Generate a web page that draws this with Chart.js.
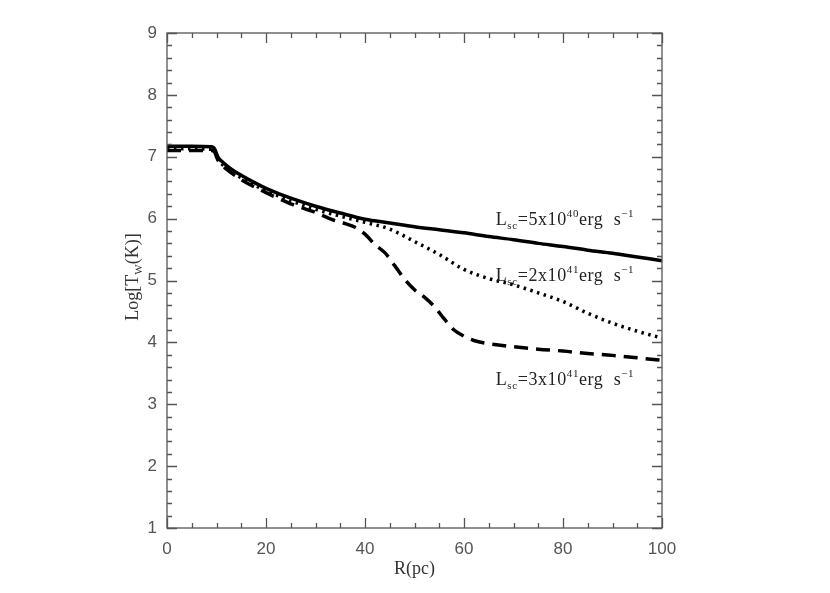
<!DOCTYPE html>
<html>
<head>
<meta charset="utf-8">
<script src="https://cdn.jsdelivr.net/npm/chart.js@4.4.1/dist/chart.umd.min.js"></script>
<style>
  html, body { margin: 0; padding: 0; background: #fff; }
  #wrap { width: 830px; height: 593px; }
</style>
</head>
<body>
<div id="wrap"><canvas id="tempChart" width="830" height="593"></canvas></div>
<script>
// R (pc) and Log T_W for the three luminosities
const r5e40 = [0, 5, 9, 9.6, 10, 10.4, 11, 12, 13, 15, 17, 20, 25, 30, 35, 40, 45, 50, 55, 60, 65, 70, 75, 80, 85, 90, 95, 100];
const logT5e40 = [7.17, 7.17, 7.16, 7.13, 7.05, 6.98, 6.93, 6.86, 6.80, 6.70, 6.61, 6.49, 6.33, 6.20, 6.09, 5.99, 5.93, 5.87, 5.82, 5.77, 5.71, 5.66, 5.60, 5.55, 5.49, 5.44, 5.38, 5.32];

const r2e41 = [0, 5, 9, 9.6, 10, 10.4, 11, 12, 13, 15, 17, 20, 25, 30, 35, 40, 45, 50, 55, 60, 65, 70, 75, 80, 85, 90, 95, 100];
const logT2e41 = [7.13, 7.13, 7.12, 7.10, 7.02, 6.95, 6.89, 6.82, 6.76, 6.66, 6.57, 6.45, 6.29, 6.15, 6.04, 5.94, 5.83, 5.63, 5.42, 5.18, 5.03, 4.93, 4.80, 4.66, 4.47, 4.31, 4.18, 4.07];

const r3e41 = [0, 5, 9, 9.6, 10, 10.4, 11, 12, 13, 15, 17, 20, 25, 30, 33.5, 36, 38, 40, 42, 44, 46, 48, 50, 52, 54, 56, 58, 60, 62, 65, 70, 75, 80, 85, 90, 95, 100];
const logT3e41 = [7.10, 7.10, 7.10, 7.08, 7.00, 6.93, 6.88, 6.80, 6.74, 6.63, 6.54, 6.42, 6.24, 6.10, 5.98, 5.92, 5.86, 5.75, 5.58, 5.45, 5.24, 5.02, 4.85, 4.73, 4.58, 4.38, 4.20, 4.10, 4.03, 3.98, 3.93, 3.89, 3.86, 3.82, 3.79, 3.75, 3.71];

// curve labels: mantissa, exponent, anchor (R, LogT at baseline)
const labelMant = ["5", "2", "3"];
const labelExp = ["40", "41", "41"];
const labelR = [66.4, 66.4, 66.4];
const labelLogT = [5.89, 5.0, 3.31];

const xMajor = [0, 20, 40, 60, 80, 100];
const yMajor = [1, 2, 3, 4, 5, 6, 7, 8, 9];

const axisColor = "#555";
const serif = "'Liberation Serif', 'DejaVu Serif', serif";

function pts(xs, ys) { return xs.map((x, i) => ({ x: x, y: ys[i] })); }

// frame with inward ticks on all four sides (IDL style)
const frameTicks = {
  id: "frameTicks",
  afterDatasetsDraw(chart) {
    const ctx = chart.ctx, a = chart.chartArea;
    const xs = chart.scales.x, ys = chart.scales.y;
    ctx.save();
    ctx.strokeStyle = axisColor;
    ctx.lineWidth = 1.3;
    ctx.strokeRect(a.left, a.top, a.right - a.left, a.bottom - a.top);
    ctx.beginPath();
    for (let v = 0; v <= 100; v += 5) {
      const p = Math.round(xs.getPixelForValue(v)) + 0.5;
      const len = v % 20 === 0 ? 10 : 5;
      ctx.moveTo(p, a.bottom); ctx.lineTo(p, a.bottom - len);
      ctx.moveTo(p, a.top); ctx.lineTo(p, a.top + len);
    }
    for (let k = 0; k <= 40; k++) {
      const v = 1 + k * 0.2;
      const p = Math.round(ys.getPixelForValue(v)) + 0.5;
      const len = k % 5 === 0 ? 10 : 5;
      ctx.moveTo(a.left, p); ctx.lineTo(a.left + len, p);
      ctx.moveTo(a.right, p); ctx.lineTo(a.right - len, p);
    }
    ctx.stroke();
    ctx.restore();
  }
};

// text with sub/superscripts
function drawRich(ctx, parts, x, y) {
  let cx = x;
  parts.forEach(p => {
    const size = p.t === "n" ? 18 : 11;
    const dy = p.t === "sub" ? 4 : (p.t === "sup" ? -8 : 0);
    ctx.font = size + "px " + serif;
    ctx.fillText(p.s, cx, y + dy);
    cx += ctx.measureText(p.s).width;
  });
  return cx - x;
}
function richWidth(ctx, parts) {
  let w = 0;
  parts.forEach(p => {
    ctx.font = (p.t === "n" ? 18 : 11) + "px " + serif;
    w += ctx.measureText(p.s).width;
  });
  return w;
}

const textLayer = {
  id: "textLayer",
  afterDraw(chart) {
    const ctx = chart.ctx, a = chart.chartArea;
    const xs = chart.scales.x, ys = chart.scales.y;
    ctx.save();
    ctx.fillStyle = "#333";
    ctx.textBaseline = "alphabetic";
    ctx.textAlign = "left";

    // x title
    const xt = [{ t: "n", s: "R(pc)" }];
    drawRich(ctx, xt, (a.left + a.right) / 2 - richWidth(ctx, xt) / 2, 574);

    // y title, rotated
    const yt = [{ t: "n", s: "Log[T" }, { t: "sub", s: "W" }, { t: "n", s: "(K)]" }];
    ctx.save();
    ctx.translate(138, 277);
    ctx.rotate(-Math.PI / 2);
    drawRich(ctx, yt, -richWidth(ctx, yt) / 2, 0);
    ctx.restore();

    // curve labels
    ctx.fillStyle = "#222";
    ctx.letterSpacing = "0.6px";
    labelMant.forEach((m, i) => {
      const parts = [
        { t: "n", s: "L" }, { t: "sub", s: "sc" },
        { t: "n", s: "=" + m + "x10" }, { t: "sup", s: labelExp[i] },
        { t: "n", s: "erg  s" }, { t: "sup", s: "\u22121" }
      ];
      drawRich(ctx, parts, xs.getPixelForValue(labelR[i]), ys.getPixelForValue(labelLogT[i]));
    });
    ctx.restore();
  }
};

new Chart(document.getElementById("tempChart"), {
  type: "line",
  data: {
    datasets: [{
      label: "Lsc=5x10^40",
      data: pts(r5e40, logT5e40),
      borderColor: "#000",
      borderWidth: 3.5,
      pointRadius: 0,
      cubicInterpolationMode: "monotone"
    }, {
      label: "Lsc=2x10^41",
      data: pts(r2e41, logT2e41),
      borderColor: "#000",
      borderWidth: 3.5,
      borderDash: [2.5, 4.5],
      pointRadius: 0,
      cubicInterpolationMode: "monotone"
    }, {
      label: "Lsc=3x10^41",
      data: pts(r3e41, logT3e41),
      borderColor: "#000",
      borderWidth: 3.5,
      borderDash: [14, 8],
      pointRadius: 0,
      cubicInterpolationMode: "monotone"
    }]
  },
  options: {
    responsive: false,
    animation: false,
    layout: { padding: { left: 0, right: 168, top: 33, bottom: 0 } },
    plugins: {
      legend: { display: false },
      tooltip: { enabled: false }
    },
    scales: {
      x: {
        type: "linear",
        min: 0,
        max: 100,
        afterFit: s => { s.height = 65; },
        afterBuildTicks: s => { s.ticks = xMajor.map(v => ({ value: v })); },
        grid: { display: false, drawTicks: false },
        border: { display: false },
        ticks: {
          padding: 11,
          color: "#555",
          font: { family: "'Liberation Sans', Arial, sans-serif", size: 17 }
        }
      },
      y: {
        type: "linear",
        min: 1,
        max: 9,
        afterFit: s => { s.width = 167; },
        afterBuildTicks: s => { s.ticks = yMajor.map(v => ({ value: v })); },
        grid: { display: false, drawTicks: false },
        border: { display: false },
        ticks: {
          padding: 10,
          color: "#555",
          font: { family: "'Liberation Sans', Arial, sans-serif", size: 17 }
        }
      }
    }
  },
  plugins: [frameTicks, textLayer]
});
</script>
</body>
</html>
